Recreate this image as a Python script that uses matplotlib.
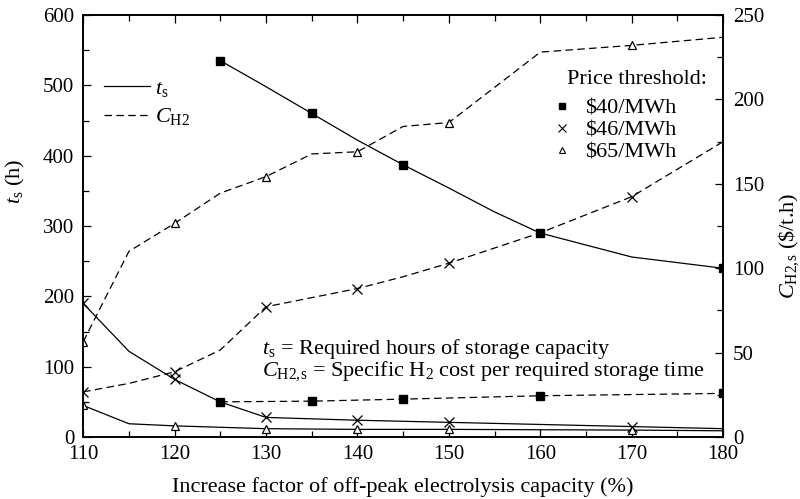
import matplotlib
matplotlib.use("Agg")
import matplotlib.pyplot as plt
from matplotlib.lines import Line2D
from matplotlib.ticker import MultipleLocator

plt.rcParams["font.family"] = ["Liberation Serif", "DejaVu Serif"]
plt.rcParams["mathtext.fontset"] = "custom"
plt.rcParams["mathtext.rm"] = "Liberation Serif"
plt.rcParams["mathtext.it"] = "Liberation Serif:italic"
plt.rcParams["font.size"] = 16

# Required storage hours t_s (left axis, h)
ts40_x = [125, 130, 135, 140, 145, 150, 155, 160, 170, 180]
ts40_y = [535, 498, 460, 422, 387, 354, 320, 290, 256, 240]
ts40_marks = [0, 2, 4, 7, 9]

ts46_x = [110, 115, 120, 125, 130, 140, 150, 170, 180]
ts46_y = [190, 122, 82, 50, 28, 24, 21, 15, 12]
ts46_marks = [0, 2, 4, 5, 6, 7]

ts65_x = [110, 115, 120, 130, 140, 150, 170, 180]
ts65_y = [45, 19, 16, 12, 11, 11, 10, 9]
ts65_marks = [0, 2, 3, 4, 5, 6]

# Specific H2 cost C_H2,s (right axis, $/t.h)
c40_x = [125, 135, 145, 160, 180]
c40_y = [20.9, 21.3, 22.5, 24.5, 25.9]
c40_marks = [0, 1, 2, 3, 4]

c46_x = [110, 115, 120, 125, 130, 140, 145, 150, 160, 170, 180]
c46_y = [26.8, 31.8, 38.7, 51.6, 77.2, 88.0, 95.0, 103.0, 121.0, 142.4, 175.0]
c46_marks = [0, 2, 4, 5, 7, 9]

c65_x = [110, 115, 120, 125, 130, 135, 140, 145, 150, 160, 170, 180]
c65_y = [56.5, 110.0, 126.6, 144.5, 154.3, 167.7, 169.0, 184.0, 186.3, 228.0, 232.0, 236.8]
c65_marks = [0, 2, 4, 6, 8, 10]

price_labels = ["$40/MWh", "$46/MWh", "$65/MWh"]

lw = 0.9
dash = (0, (6, 3.5))
sq = dict(marker="s", markersize=5.5, markerfacecolor="black", markeredgecolor="black")
xm = dict(marker="x", markersize=6.5, markeredgecolor="black", markeredgewidth=0.9)
tr = dict(marker="^", markersize=5.5, markerfacecolor="white", markeredgecolor="black",
          markeredgewidth=0.9)

fig = plt.figure(figsize=(8.0, 4.99), dpi=100)
ax = fig.add_axes([0.104, 0.124, 0.800, 0.846])
ax2 = ax.twinx()

ax.plot(ts40_x, ts40_y, color="black", lw=lw, markevery=ts40_marks, **sq)
ax.plot(ts46_x, ts46_y, color="black", lw=lw, markevery=ts46_marks, **xm)
ax.plot(ts65_x, ts65_y, color="black", lw=lw, markevery=ts65_marks, **tr)

ax2.plot(c40_x, c40_y, color="black", lw=lw, linestyle=dash, markevery=c40_marks, **sq)
ax2.plot(c46_x, c46_y, color="black", lw=lw, linestyle=dash, markevery=c46_marks, **xm)
ax2.plot(c65_x, c65_y, color="black", lw=lw, linestyle=dash, markevery=c65_marks, **tr)

ax.set_xlim(110, 180)
ax.set_ylim(0, 600)
ax2.set_ylim(0, 250)

ax.xaxis.set_major_locator(MultipleLocator(10))
ax.xaxis.set_minor_locator(MultipleLocator(5))
ax.yaxis.set_major_locator(MultipleLocator(100))
ax.yaxis.set_minor_locator(MultipleLocator(50))
ax2.yaxis.set_major_locator(MultipleLocator(50))
ax2.yaxis.set_minor_locator(MultipleLocator(25))

ax.tick_params(axis="x", which="both", direction="in", top=True, pad=6, labelsize=15)
ax.tick_params(axis="y", which="both", direction="in", right=False, pad=6.5, labelsize=15)
ax.tick_params(which="major", length=6, width=0.9)
ax.tick_params(which="minor", length=4, width=0.9)
ax2.tick_params(axis="y", which="both", direction="in", pad=7, labelsize=15)
ax2.tick_params(which="major", length=6, width=0.9)
ax2.tick_params(which="minor", length=4, width=0.9)

for a in (ax, ax2):
    for s in a.spines.values():
        s.set_linewidth(1.2)

ax.set_xlabel("Increase factor of off-peak electrolysis capacity (%)", labelpad=9)
ax.set_ylabel(r"$t_{\mathrm{s}}$ (h)")
ax.yaxis.set_label_coords(-0.0875, 0.607)
ax2.set_ylabel(r"$C_{\mathrm{H2,\!s}}$ (\$/t.h)", rotation=90)
ax2.yaxis.set_label_coords(1.083, 0.453)

# Line-style key
style_handles = [Line2D([], [], color="black", lw=lw),
                 Line2D([], [], color="black", lw=lw, linestyle=dash)]
leg1 = ax2.legend(style_handles, [r"$t_{\mathrm{s}}$", r"$C_{\mathrm{H2}}$"],
                  loc="upper left", bbox_to_anchor=(0.033, 0.849), frameon=False,
                  handlelength=2.07, handletextpad=0.22, labelspacing=0.32,
                  borderpad=0, borderaxespad=0)
ax2.add_artist(leg1)

# Marker key for price thresholds
ax2.text(0.756, 0.848, "Price threshold:", transform=ax2.transAxes,
         ha="left", va="center")
marker_handles = [Line2D([], [], linestyle="none", marker="s", markersize=4.5,
                         markerfacecolor="black", markeredgecolor="black"),
                  Line2D([], [], linestyle="none", marker="x", markersize=5.5,
                         markeredgecolor="black", markeredgewidth=0.8),
                  Line2D([], [], linestyle="none", marker="^", markersize=4.5,
                         markerfacecolor="white", markeredgecolor="black",
                         markeredgewidth=0.8)]
ax2.legend(marker_handles, price_labels, loc="upper left",
           bbox_to_anchor=(0.731, 0.803), frameon=False,
           handlelength=1.0, handletextpad=0.54, labelspacing=0.07,
           borderpad=0, borderaxespad=0)

ax.text(0.28, 0.197, r"$t_{\mathrm{s}}$ = Required hours of storage capacity",
        transform=ax.transAxes, ha="left", va="baseline")
ax.text(0.28, 0.145,
        r"$C_{\mathrm{H2,\!s}}$ = Specific H$_2$ cost per required storage time",
        transform=ax.transAxes, ha="left", va="baseline")

fig.savefig("out.png", dpi=100)
